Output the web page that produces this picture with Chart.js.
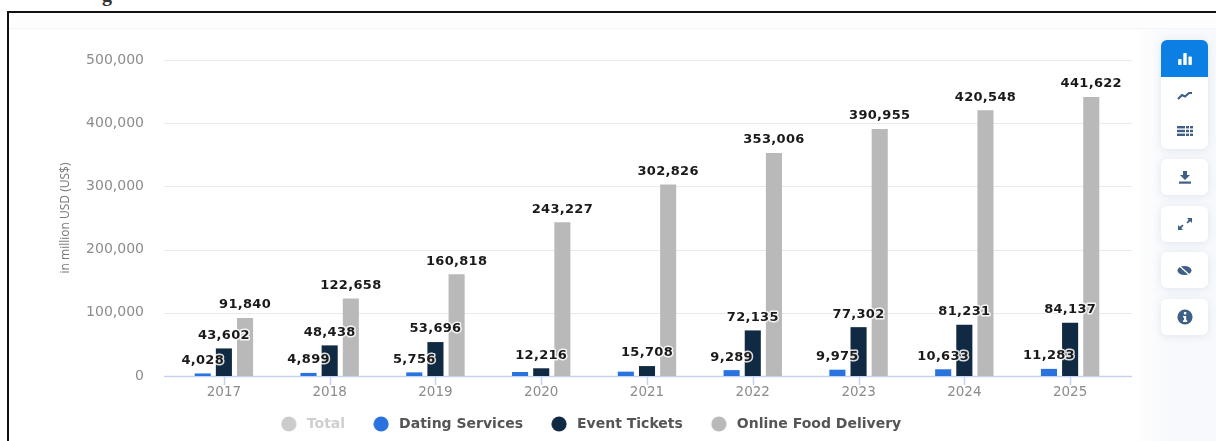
<!DOCTYPE html>
<html lang="en">
<head>
<meta charset="utf-8">
<title>Digital market revenue by segment</title>
<script src="https://cdn.jsdelivr.net/npm/chart.js@4"></script>
<style>
  html, body { margin: 0; padding: 0; background: #fff; width: 1216px; height: 441px; overflow: hidden; }
  #frame { position: absolute; left: 7px; top: 11px; width: 1209px; height: 430px; border-left: 2px solid #111; border-top: 2px solid #111; box-sizing: border-box; }
  #headband { position: absolute; left: 9px; top: 13px; right: 0; height: 15px; background: #fdfdfe; border-bottom: 1px solid #f2f5fa; }
  #sidefade { position: absolute; left: 1134px; top: 29px; right: 0; bottom: 0; background: linear-gradient(to right, #fff, #f7f9fc 40%); }
  #cut { position: absolute; left: 102px; top: -16px; font: bold 20px "Liberation Serif", serif; color: #333; line-height: 20px; }
  canvas { position: absolute; left: 0; top: 0; }
  .btn { position: absolute; left: 1161px; width: 47px; background: #fff; border-radius: 6px; box-shadow: 0 1px 8px rgba(70,100,150,.13); display: flex; align-items: center; justify-content: center; }
  .btn svg { display: block; }
  .active { background: #0b7fe3; border-radius: 6px 6px 0 0; box-shadow: none; }
</style>
</head>
<body>
<div id="cut">g</div>
<div id="frame"></div>
<div id="headband"></div>
<div id="sidefade"></div>

<canvas id="chart" width="1182" height="441"></canvas>

<!-- chart tool buttons -->
<div class="btn" style="top:40px;height:109px"></div>
<div class="btn active" style="top:40px;height:37px">
  <svg width="14" height="12" viewBox="0 0 16 14" fill="#fff"><rect x="0" y="7" width="4" height="7" rx="1"/><rect x="6" y="0" width="4" height="14" rx="1"/><rect x="12" y="4" width="4" height="10" rx="1"/></svg>
</div>
<div class="btn" style="top:77px;height:36px;background:none;box-shadow:none">
  <svg width="16" height="9" viewBox="0 0 16 9" fill="none" stroke="#3f5f87" stroke-width="2.2"><path d="M1 8 L5 4 L8 5.5 L12 2 L15 2"/></svg>
</div>
<div class="btn" style="top:113px;height:36px;background:none;box-shadow:none">
  <svg width="16" height="10" viewBox="0 0 16 10" fill="#3f5f87"><rect x="0" y="0" width="8" height="2.4"/><rect x="0" y="3.8" width="8" height="2.4"/><rect x="0" y="7.6" width="8" height="2.4"/><rect x="9" y="0" width="3" height="2.4"/><rect x="9" y="3.8" width="3" height="2.4"/><rect x="9" y="7.6" width="3" height="2.4"/><rect x="13" y="0" width="3" height="2.4"/><rect x="13" y="3.8" width="3" height="2.4"/><rect x="13" y="7.6" width="3" height="2.4"/></svg>
</div>
<div class="btn" style="top:159px;height:36px">
  <svg width="14" height="13" viewBox="0 0 14 13" fill="#3f5f87"><path d="M5 0h4v4h3L7 9 2 4h3z"/><rect x="1" y="10.5" width="12" height="2.2"/></svg>
</div>
<div class="btn" style="top:206px;height:36px">
  <svg width="14" height="12" viewBox="0 0 14 12" fill="#3f5f87"><path d="M14 0v5l-1.8-1.8-2.7 2.2-1-1 2.2-2.7L9 0z"/><path d="M0 12V7l1.8 1.8 2.7-2.2 1 1-2.2 2.7L5 12z"/></svg>
</div>
<div class="btn" style="top:252px;height:36px">
  <svg width="15" height="11" viewBox="0 0 15 11"><ellipse cx="7.5" cy="5.5" rx="7" ry="4.5" fill="#3f5f87"/><path d="M2 0.5 L13 10.5" stroke="#fff" stroke-width="1.3"/></svg>
</div>
<div class="btn" style="top:299px;height:36px">
  <svg width="16" height="16" viewBox="0 0 16 16"><circle cx="8" cy="8" r="7.6" fill="#3f5f87"/><rect x="6.9" y="3" width="2.4" height="2.4" fill="#fff"/><path d="M6 7h3.2v4.2h1V13H6v-1.8h1V8.6H6z" fill="#fff"/></svg>
</div>

<script>
// Market revenue per year, in million US$
const years = ['2017', '2018', '2019', '2020', '2021', '2022', '2023', '2024', '2025'];
const datingServices = [4028, 4899, 5756, 6300, 6900, 9289, 9975, 10633, 11283];
const eventTickets = [43602, 48438, 53696, 12216, 15708, 72135, 77302, 81231, 84137];
const onlineFoodDelivery = [91840, 122658, 160818, 243227, 302826, 353006, 390955, 420548, 441622];
const totals = [];
const unlabelledDatingYears = ['2020', '2021'];
const yTicks = [0, 100000, 200000, 300000, 400000, 500000];

const numberFormat = new Intl.NumberFormat('en-US');

// Round legend marker on its own small canvas
function legendDot(color) {
  const dot = document.createElement('canvas');
  dot.width = 16;
  dot.height = 16;
  const c = dot.getContext('2d');
  c.fillStyle = color;
  c.beginPath();
  c.arc(8, 8, 7.6, 0, Math.PI * 2);
  c.fill();
  return dot;
}

// The year labels sit in the gap above the legend; keep them out of the axis clip
const roomForYears = {
  id: 'roomForYears',
  afterLayout(chart) { chart.scales.x.bottom += 20; }
};

// Horizontal rules run a little past the first and last category; year ticks hang below the base
const ruleLines = {
  id: 'ruleLines',
  beforeDatasetsDraw(chart) {
    const { ctx, chartArea, scales } = chart;
    ctx.save();
    yTicks.forEach(v => {
      const y = Math.round(scales.y.getPixelForValue(v)) + 0.5;
      ctx.strokeStyle = v === 0 ? '#c4d3f0' : '#e8e9ec';
      ctx.lineWidth = v === 0 ? 1.5 : 1;
      ctx.beginPath();
      ctx.moveTo(chartArea.left - 7, y);
      ctx.lineTo(chartArea.right + 9, y);
      ctx.stroke();
    });
    ctx.strokeStyle = '#c4d3f0';
    ctx.lineWidth = 1.5;
    years.forEach((year, i) => {
      const x = Math.round(scales.x.getPixelForTick(i)) + 0.5;
      ctx.beginPath();
      ctx.moveTo(x, chartArea.bottom);
      ctx.lineTo(x, chartArea.bottom + 9);
      ctx.stroke();
    });
    ctx.restore();
  }
};

// Value captions above the bars, with a white halo
const valueCaptions = {
  id: 'valueCaptions',
  afterDatasetsDraw(chart) {
    const { ctx } = chart;
    ctx.save();
    ctx.font = 'bold 13px "DejaVu Sans"';
    ctx.letterSpacing = '0.3px';
    ctx.textAlign = 'center';
    ctx.textBaseline = 'middle';
    ctx.lineJoin = 'round';
    chart.data.datasets.forEach((ds, i) => {
      if (ds.hidden) return;
      chart.getDatasetMeta(i).data.forEach((bar, j) => {
        if (ds.label === 'Dating Services' && unlabelledDatingYears.includes(years[j])) return;
        const text = numberFormat.format(ds.data[j]);
        ctx.strokeStyle = 'rgba(255,255,255,0.85)';
        ctx.lineWidth = 3;
        ctx.strokeText(text, bar.x, bar.y - 13);
        ctx.fillStyle = '#1a1a1a';
        ctx.fillText(text, bar.x, bar.y - 13);
      });
    });
    ctx.restore();
  }
};

new Chart(document.getElementById('chart'), {
  type: 'bar',
  data: {
    labels: years,
    datasets: [
      { label: 'Total', data: totals, backgroundColor: '#cccccc', hidden: true },
      { label: 'Dating Services', data: datingServices, backgroundColor: '#2a72de' },
      { label: 'Event Tickets', data: eventTickets, backgroundColor: '#0f2a42' },
      { label: 'Online Food Delivery', data: onlineFoodDelivery, backgroundColor: '#b9b9b9' }
    ]
  },
  options: {
    responsive: false,
    animation: false,
    barPercentage: 0.76,
    categoryPercentage: 0.6,
    layout: { padding: { top: 60, right: 59, left: 56, bottom: 0 } },
    plugins: {
      tooltip: { enabled: false },
      legend: {
        position: 'bottom',
        onClick: null,
        labels: {
          usePointStyle: true,
          boxHeight: 11,
          pointStyleWidth: 22,
          padding: 25,
          font: { family: '"DejaVu Sans"', size: 14, weight: 'bold' },
          generateLabels(chart) {
            return chart.data.datasets.map((ds, i) => ({
              text: ds.label,
              fillStyle: ds.backgroundColor,
              strokeStyle: ds.backgroundColor,
              lineWidth: 0,
              fontColor: ds.hidden ? '#cfcfcf' : '#555555',
              hidden: false,
              pointStyle: legendDot(ds.backgroundColor),
              datasetIndex: i
            }));
          }
        }
      }
    },
    scales: {
      x: {
        afterFit(scale) { scale.height = 16; },
        grid: { display: false },
        border: { display: false },
        ticks: { color: '#8c8c8c', padding: 0, maxRotation: 0, font: { family: '"DejaVu Sans"', size: 13.5 } }
      },
      y: {
        min: 0,
        max: 500000,
        afterFit(scale) { scale.width = 115; },
        afterBuildTicks(scale) { scale.ticks = yTicks.map(value => ({ value })); },
        grid: { display: false },
        border: { display: false },
        title: {
          display: true,
          text: 'in million USD (US$)',
          color: '#777777',
          padding: { top: 2, bottom: 0 },
          font: { family: '"Open Sans"', size: 12 }
        },
        ticks: {
          color: '#8c8c8c',
          padding: 19,
          font: { family: '"DejaVu Sans"', size: 14 },
          callback: v => numberFormat.format(v)
        }
      }
    }
  },
  plugins: [roomForYears, ruleLines, valueCaptions]
});
</script>
</body>
</html>
